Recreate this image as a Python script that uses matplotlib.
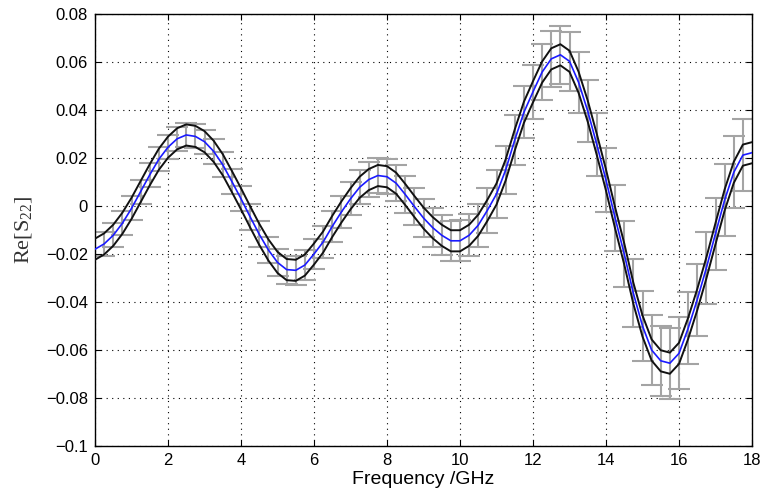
import matplotlib
matplotlib.use("Agg")
import matplotlib.pyplot as plt
import numpy as np

# frequency grid (GHz) and mean Re[S22]
freq = [0.00, 0.25, 0.50, 0.75, 1.00, 1.25, 1.50, 1.75, 2.00, 2.25, 2.50, 2.75,
        3.00, 3.25, 3.50, 3.75, 4.00, 4.25, 4.50, 4.75, 5.00, 5.25, 5.50, 5.75,
        6.00, 6.25, 6.50, 6.75, 7.00, 7.25, 7.50, 7.75, 8.00, 8.25, 8.50, 8.75,
        9.00, 9.25, 9.50, 9.75, 10.00, 10.25, 10.50, 10.75, 11.00, 11.25, 11.50, 11.75,
        12.00, 12.25, 12.50, 12.75, 13.00, 13.25, 13.50, 13.75, 14.00, 14.25, 14.50, 14.75,
        15.00, 15.25, 15.50, 15.75, 16.00, 16.25, 16.50, 16.75, 17.00, 17.25, 17.50, 17.75,
        18.00]
mean_s22 = [-0.0180, -0.0158, -0.0122, -0.0072, -0.0010, 0.0060, 0.0130, 0.0195, 0.0245, 0.0280, 0.0296, 0.0290,
            0.0268, 0.0228, 0.0172, 0.0102, 0.0030, -0.0045, -0.0118, -0.0183, -0.0235, -0.0265, -0.0268, -0.0246,
            -0.0200, -0.0150, -0.0085, -0.0025, 0.0030, 0.0078, 0.0110, 0.0127, 0.0122, 0.0095, 0.0048, -0.0002,
            -0.0050, -0.0090, -0.0122, -0.0145, -0.0145, -0.0122, -0.0080, -0.0018, 0.0050, 0.0150, 0.0275, 0.0390,
            0.0476, 0.0558, 0.0613, 0.0630, 0.0603, 0.0515, 0.0395, 0.0255, 0.0108, -0.0050, -0.0200, -0.0364,
            -0.0500, -0.0600, -0.0645, -0.0655, -0.0614, -0.0510, -0.0390, -0.0258, -0.0115, 0.0025, 0.0140, 0.0212,
            0.0222]
# half-length of the grey error bars
err_s22 = [0.0050, 0.0050, 0.0050, 0.0050, 0.0050, 0.0050, 0.0050, 0.0050, 0.0050, 0.0050, 0.0050, 0.0050,
           0.0050, 0.0052, 0.0052, 0.0052, 0.0052, 0.0053, 0.0054, 0.0055, 0.0056, 0.0058, 0.0060, 0.0062,
           0.0063, 0.0065, 0.0066, 0.0068, 0.0069, 0.0071, 0.0072, 0.0073, 0.0074, 0.0076, 0.0077, 0.0079,
           0.0080, 0.0082, 0.0083, 0.0084, 0.0085, 0.0088, 0.0090, 0.0094, 0.0098, 0.0102, 0.0105, 0.0108,
           0.0112, 0.0115, 0.0118, 0.0120, 0.0122, 0.0126, 0.0130, 0.0132, 0.0135, 0.0137, 0.0138, 0.0142,
           0.0145, 0.0146, 0.0147, 0.0148, 0.0150, 0.0150, 0.0150, 0.0150, 0.0150, 0.0150, 0.0150, 0.0150,
           0.0150]
band = 0.0044  # offset of the black envelope curves

yticks = [-0.1, -0.08, -0.06, -0.04, -0.02, 0, 0.02, 0.04, 0.06, 0.08]
ytick_labels = ["\u22120.1", "\u22120.08", "\u22120.06", "\u22120.04", "\u22120.02",
                "0", "0.02", "0.04", "0.06", "0.08"]
xticks = [0, 2, 4, 6, 8, 10, 12, 14, 16, 18]

plt.rcParams["font.family"] = ["Liberation Sans", "DejaVu Sans"]
plt.rcParams["mathtext.fontset"] = "custom"
plt.rcParams["mathtext.rm"] = "Liberation Serif"

f = np.array(freq)
m = np.array(mean_s22)
e = np.array(err_s22)

fig = plt.figure(figsize=(7.63, 5.01), dpi=100)
ax = fig.add_axes([95 / 763, 55 / 501, 657 / 763, 432 / 501])

ax.errorbar(f[1:-1], m[1:-1], yerr=e[1:-1], fmt="none", ecolor="#a4a4a4",
            elinewidth=1.5, capsize=8, capthick=1.5, zorder=2)
ax.plot(f, m + band, color="#111111", lw=1.4, solid_joinstyle="round", zorder=3)
ax.plot(f, m - band, color="#111111", lw=1.4, solid_joinstyle="round", zorder=3)
ax.plot(f, m, color="#1a1aff", lw=1.2, solid_joinstyle="round", zorder=4)

ax.set_xlim(0, 18)
ax.set_ylim(-0.1, 0.08)
ax.set_xticks(xticks)
ax.set_yticks(yticks)
ax.set_yticklabels(ytick_labels)
ax.grid(True, color="black", linestyle=(0, (1, 4)), linewidth=0.8)
ax.tick_params(direction="in", length=4, width=0.8, labelsize=12,
               top=True, right=True, pad=5)
for s in ax.spines.values():
    s.set_linewidth(1.0)

ax.set_xlabel("Frequency /GHz", fontsize=14, labelpad=2)
ax.set_ylabel(r"$\mathrm{Re}[\mathrm{S}_{22}]$", fontsize=16, color="#333333", labelpad=8)

fig.savefig("out.png", dpi=100)
